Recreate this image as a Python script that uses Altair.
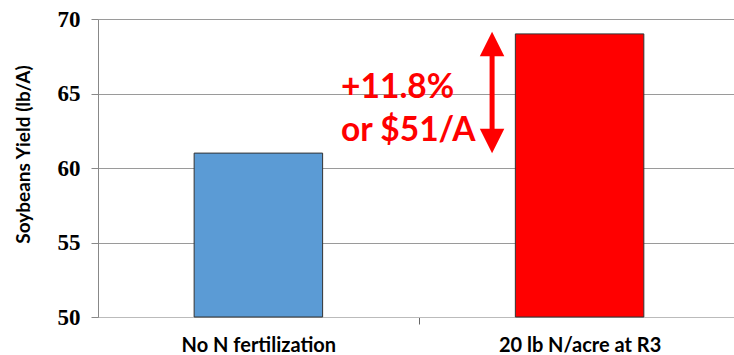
import altair as alt
import pandas as pd

# Soybean yield by nitrogen treatment
categories = ["No N fertilization", "20 lb N/acre at R3"]
yields = [61, 69]
bar_colors = ["#5B9BD5", "#FF0000"]

y_ticks = [50, 55, 60, 65, 70]
y_min, y_max = 50, 70

# Gain annotation for the R3 treatment
gain_lines = ["+11.8%", "or $51/A"]

bars_df = pd.DataFrame({"treatment": categories, "yield": yields, "color": bar_colors})
gain_df = pd.DataFrame({
    "treatment": [categories[1]],
    "low": [yields[0]],
    "high": [yields[1]],
    "mid": [(yields[0] + yields[1]) / 2],
})

# ticks sit between the categories, labels stay centred under the bars
half_step = 160.5

x_enc = alt.X(
    "treatment:N",
    sort=categories,
    scale=alt.Scale(paddingInner=0.6, paddingOuter=0.29, align=0.516),
    axis=alt.Axis(
        title=None,
        labelAngle=0,
        labelFont="Lato",
        labelFontWeight="bold",
        labelFontSize=20,
        labelColor="#000000",
        labelPadding=11,
        tickOffset=half_step,
        labelOffset=-half_step,
        tickSize=7,
        tickColor="#666666",
        domainColor="#bbbbbb",
        grid=False,
    ),
)

y_scale = alt.Scale(domain=[y_min, y_max], zero=False, nice=False)

bars = alt.Chart(bars_df).mark_bar(stroke="#333333", strokeWidth=1).encode(
    x=x_enc,
    y=alt.Y(
        "yield:Q",
        scale=y_scale,
        axis=alt.Axis(
            title="Soybeans Yield (lb/A)",
            values=y_ticks,
            titleFont="Lato",
            titleFontWeight="bold",
            titleFontSize=19,
            titleColor="#000000",
            titleAngle=-90,
            titleBaseline="middle",
            titleX=-75,
            titleY=135,
            labelFont="Liberation Serif",
            labelFontWeight="bold",
            labelFontSize=23,
            labelColor="#000000",
            labelPadding=11,
            tickSize=7,
            tickColor="#888888",
            domainColor="#888888",
            gridColor="#9a9a9a",
        ),
    ),
    y2=alt.datum(y_min),
    color=alt.Color("color:N", scale=None),
)

arrow_x = -87.5

shaft = alt.Chart(gain_df).mark_rule(
    color="#FF0000", strokeWidth=5, xOffset=arrow_x, yOffset=16, y2Offset=-16
).encode(
    x=alt.X("treatment:N", sort=categories),
    y="high:Q",
    y2="low:Q",
)

head_up = alt.Chart(gain_df).mark_point(
    shape="M0,-1L1,1L-1,1Z", size=600, filled=True, opacity=1,
    color="#FF0000", strokeWidth=0, xOffset=arrow_x, yOffset=10,
).encode(x=alt.X("treatment:N", sort=categories), y="high:Q")

head_down = alt.Chart(gain_df).mark_point(
    shape="M0,1L1,-1L-1,-1Z", size=600, filled=True, opacity=1,
    color="#FF0000", strokeWidth=0, xOffset=arrow_x, yOffset=-12,
).encode(x=alt.X("treatment:N", sort=categories), y="low:Q")

label = alt.Chart(gain_df).mark_text(
    font="Lato", fontWeight="bold", fontSize=33.5, color="#FF0000",
    align="left", baseline="alphabetic", lineHeight=43,
    xOffset=-238.5, yOffset=4,
).encode(
    x=alt.X("treatment:N", sort=categories),
    y="mid:Q",
    text=alt.value(gain_lines),
)

chart = alt.layer(bars, shaft, head_up, head_down, label).properties(
    width=636,
    height=298,
    autosize=alt.AutoSizeParams(type="none"),
    padding={"left": 98, "top": 19, "right": 0, "bottom": 38},
).configure_view(stroke=None).configure(background="#ffffff")

chart.save("out.html", embed_options={"renderer": "svg", "actions": False})
